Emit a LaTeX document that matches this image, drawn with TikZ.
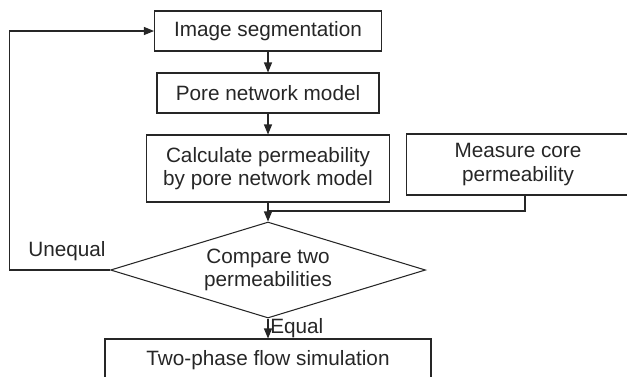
\documentclass[tikz,border=0pt]{standalone}
\usepackage{fontspec}
\setmainfont{Liberation Sans}
\usepackage{tikz}
\usetikzlibrary{positioning,arrows.meta,shapes.geometric}
\tikzset{
	>={Triangle[length=2mm,width=1.6mm]},
	every node/.style={font=\fontsize{11.8}{13.1}\selectfont, text=black!85},
	process/.style={draw, rectangle, inner sep=0pt, align=center},
	decision/.style={draw, diamond, aspect=3.28, inner sep=0pt, align=center,
		minimum width=6.3cm, minimum height=1.92cm},
}

\begin{document}
\begin{tikzpicture}[draw=black!85, line width=0.6pt]
		\useasboundingbox (0,0) rectangle (12.54,-7.52);

		\node[process, minimum width=4.54cm, minimum height=0.8cm] (seg) at (5.36,-0.62) {Image segmentation};
		\node[process, minimum width=4.44cm, minimum height=0.8cm] (pnm) at (5.36,-1.86) {Pore network model};
		\node[process, minimum width=4.86cm, minimum height=1.34cm] (calc) at (5.36,-3.37) {Calculate permeability\\by pore network model};
		\node[process, minimum width=4.46cm, minimum height=1.22cm] (meas) at (10.36,-3.29) {Measure core\\permeability};
		\node[decision] (cmp) at (5.36,-5.40) {Compare two\\permeabilities};
		\node[process, minimum width=6.52cm, minimum height=0.84cm] (flow) at (5.36,-7.20) {Two-phase flow simulation};
		\node (unequal) at (1.34,-5.02) {Unequal};

		\coordinate (join) at (5.36,-4.22);
		\coordinate (measout) at (10.5,-3.90);
		\coordinate (back) at (0.19,-0.62);

		\draw[->] (seg) -- (pnm);
		\draw[->] (pnm) -- (calc);
		\draw (calc) -- (join);
		\draw (measout) |- (join);
		\draw[->] (join) -- (cmp);
		\draw[->] (cmp) -- node[right, inner sep=1pt] {Equal} (flow);
		\draw[->] (cmp.west) -| (back) -- (seg.west);
	\end{tikzpicture}
\end{document}
